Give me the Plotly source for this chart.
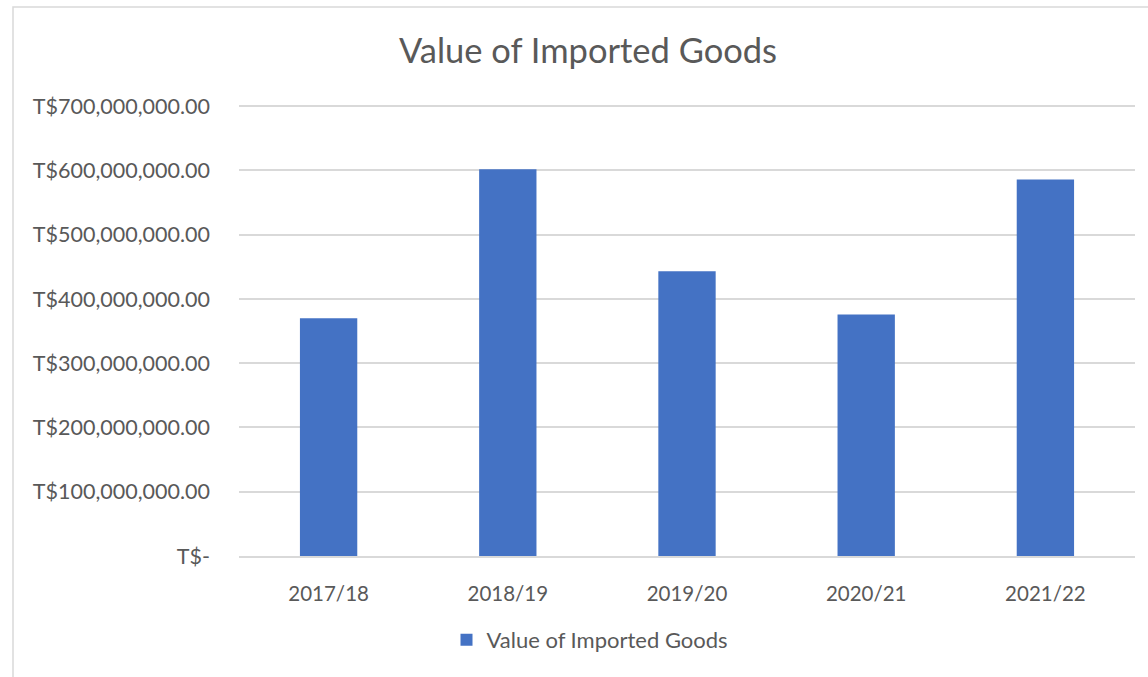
import plotly.graph_objects as go

# Fiscal years and import values (T$)
years = ["2017/18", "2018/19", "2019/20", "2020/21", "2021/22"]
import_values = [370_000_000, 602_000_000, 443_000_000, 376_000_000, 586_000_000]
tick_values = [0, 100_000_000, 200_000_000, 300_000_000, 400_000_000,
               500_000_000, 600_000_000, 700_000_000]

def money(v):
    return "T$-" if v == 0 else f"T${v:,.2f}"

tick_text = [money(v) for v in tick_values]

TEXT = "#595959"
GRID = "#d9d9d9"
FONT = "Lato"

fig = go.Figure()
fig.add_trace(go.Bar(
    x=years,
    y=import_values,
    name="Value of Imported Goods",
    marker=dict(color="#4472C4", line=dict(width=0)),
    width=0.32,
    showlegend=True,
))

W, H = 1148, 677
L, R, T, B = 239, 13, 103, 121
Y_TOP = 705_000_000  # headroom so the top gridline is drawn
plot_w = W - L - R
plot_h = H - T - B

def px_x(p):
    return (p - L) / plot_w

def px_y(p):
    return (H - B - p) / plot_h

fig.update_layout(
    width=W,
    height=H,
    margin=dict(l=L, r=R, t=T, b=B),
    paper_bgcolor="white",
    plot_bgcolor="white",
    font=dict(family=FONT, color=TEXT, size=20),
    title=dict(
        text="Value of Imported Goods",
        x=588 / W, xref="container", xanchor="center",
        y=1 - 51 / H, yref="container", yanchor="middle",
        font=dict(size=34.5, color=TEXT, family=FONT),
    ),
    legend=dict(
        orientation="h",
        x=px_x(590), xanchor="center",
        y=px_y(640), yanchor="middle",
        font=dict(size=22, color=TEXT),
        itemwidth=30,
    ),
    xaxis=dict(
        showgrid=False,
        showline=True,
        linecolor=GRID,
        linewidth=1.5,
        ticks="",
        ticklabelstandoff=19,
        tickfont=dict(size=20.5, color=TEXT),
        fixedrange=True,
    ),
    yaxis=dict(
        range=[0, Y_TOP],
        tickvals=tick_values,
        ticktext=tick_text,
        showgrid=True,
        gridcolor=GRID,
        gridwidth=1.5,
        zeroline=False,
        showline=False,
        ticks="",
        ticklabelstandoff=28,
        tickfont=dict(size=21.5, color=TEXT),
        fixedrange=True,
    ),
    shapes=[dict(
        type="rect", xref="paper", yref="paper",
        x0=px_x(13), x1=px_x(1170), y0=px_y(700), y1=px_y(7),
        line=dict(color=GRID, width=1.5),
        fillcolor="rgba(0,0,0,0)",
        layer="below",
    )],
)

fig.write_html("out.html")
